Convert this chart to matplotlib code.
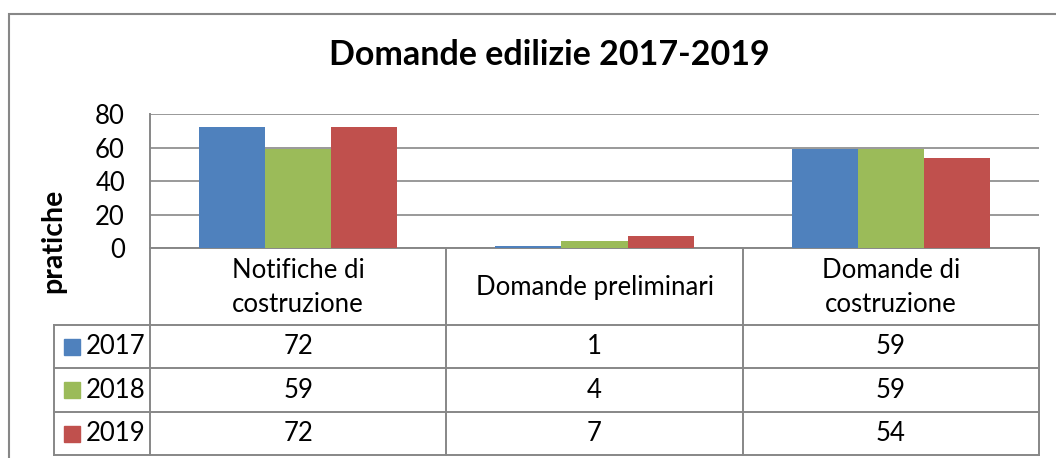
import matplotlib.pyplot as plt
import matplotlib.transforms as mtransforms
from matplotlib.patches import Rectangle
import numpy as np

# data
categories = ["Notifiche di\ncostruzione", "Domande preliminari", "Domande di\ncostruzione"]
years = ["2017", "2018", "2019"]
v2017 = [72, 1, 59]
v2018 = [59, 4, 59]
v2019 = [72, 7, 54]
series = [v2017, v2018, v2019]
colors = ["#4F81BD", "#9BBB59", "#C0504D"]

plt.rcParams['font.family'] = ['Lato', 'DejaVu Sans']
GRAY = "#878787"
FS = 18.5

W, H = 1056, 458
fig = plt.figure(figsize=(W / 100, H / 100), dpi=100)

def fx(px):
    return px / W

def fy(py):
    return 1 - py / H

# plot area in pixels
L, R, T, B = 150, 1039, 114, 248
ax = fig.add_axes([fx(L), fy(B), (R - L) / W, (B - T) / H])

def ay(py):
    return (B - py) / (B - T)

def xd(px):
    # pixel x -> data x
    return -0.5 + (px - L) / (R - L) * 3

x = np.arange(len(categories))
bw = 0.223
for i, (vals, c) in enumerate(zip(series, colors)):
    ax.bar(x + (i - 1) * bw, vals, width=bw, color=c, zorder=3)

ax.set_xlim(-0.5, 2.5)
ax.set_ylim(0, 80)
ax.set_yticks(range(0, 81, 20))
ax.set_xticks([])
ax.tick_params(axis='y', length=0, labelsize=FS, pad=18)
ax.grid(axis='y', color=GRAY, linewidth=1.2, zorder=0)
for s in ['top', 'right']:
    ax.spines[s].set_visible(False)
for s in ['left', 'bottom']:
    ax.spines[s].set_color(GRAY)
    ax.spines[s].set_linewidth(1.4)

# data table below the axis
tr = mtransforms.blended_transform_factory(ax.transData, ax.transAxes)
rows_px = [325, 368, 412, 455]
lk = dict(color=GRAY, linewidth=1.4, transform=tr, clip_on=False, zorder=5)
for py in rows_px:
    ax.plot([xd(54), 2.5], [ay(py), ay(py)], **lk)
for xb in [-0.5, 0.5, 1.5, 2.5]:
    ax.plot([xb, xb], [0, ay(455)], **lk)
ax.plot([xd(54), xd(54)], [ay(325), ay(455)], **lk)

for i, cat in enumerate(categories):
    ax.text(i, ay(288), cat, transform=tr, ha='center', va='center',
            fontsize=FS, linespacing=1.45)

for r, (yr, vals, c) in enumerate(zip(years, series, colors)):
    yc = ay((rows_px[r] + rows_px[r + 1]) / 2)
    ax.add_patch(Rectangle((xd(64), yc - 8 / (B - T)), xd(80) - xd(64), 16 / (B - T),
                           transform=tr, color=c, clip_on=False))
    ax.text(xd(86), yc, yr, transform=tr, ha='left', va='center', fontsize=FS)
    for i, v in enumerate(vals):
        ax.text(i, yc, str(v), transform=tr, ha='center', va='center', fontsize=FS)

fig.text(fx(549), fy(55), "Domande edilizie 2017-2019", ha='center', va='center',
         fontsize=24.5, fontweight='bold')
fig.text(fx(53), fy(241), "pratiche", ha='center', va='center', rotation=90,
         fontsize=20.5, fontweight='bold')

# chart border
fig.add_artist(Rectangle((fx(9), fy(470)), fx(1070) - fx(9), fy(14) - fy(470),
                         transform=fig.transFigure, fill=False, edgecolor=GRAY,
                         linewidth=1.5))

fig.savefig("out.png", dpi=100)
